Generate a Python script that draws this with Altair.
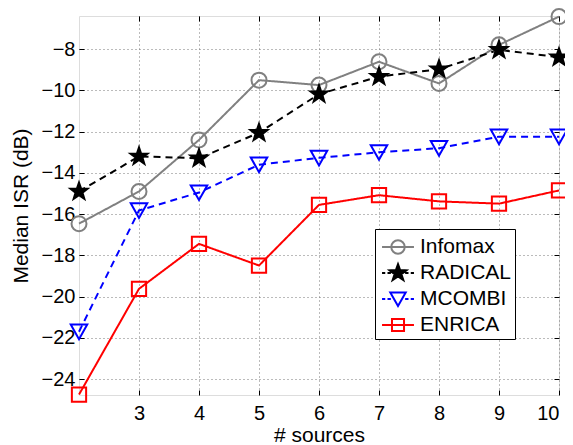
import altair as alt
import pandas as pd

# ---- data ----
sources = [2, 3, 4, 5, 6, 7, 8, 9, 10]
infomax = [-16.46, -14.9, -12.4, -9.5, -9.74, -8.61, -9.66, -7.79, -6.42]
radical = [-14.9, -13.2, -13.29, -12.05, -10.18, -9.33, -8.97, -8.03, -8.39]
mcombi = [-21.7, -15.82, -14.95, -13.6, -13.27, -13.0, -12.8, -12.24, -12.24]
enrica = [-24.75, -19.62, -17.44, -18.49, -15.55, -15.08, -15.38, -15.49, -14.85]

methods = ["Infomax", "RADICAL", "MCOMBI", "ENRICA"]
colors = ["#808080", "#000000", "#0000ff", "#ff0000"]
fills = ["transparent", "#000000", "transparent", "transparent"]
dashes = [[1, 0], [7, 5], [7, 5], [1, 0]]

x_ticks = [3, 4, 5, 6, 7, 8, 9, 10]
y_ticks = [-8, -10, -12, -14, -16, -18, -20, -22, -24]
x_domain = [2, 10]
y_domain = [-24.77, -6.39]

rows = []
for name, vals in zip(methods, [infomax, radical, mcombi, enrica]):
    for s, v in zip(sources, vals):
        rows.append({"sources": s, "isr": v, "method": name})
df = pd.DataFrame(rows)

# marker shapes (unit coordinates)
star = "M0,-1.2L0.28,-0.39L1.14,-0.37L0.46,0.15L0.71,0.97L0,0.48L-0.71,0.97L-0.46,0.15L-1.14,-0.37L-0.28,-0.39Z"
marker_shapes = [
    "circle",
    star,
    "M-1.1,-0.95L1.1,-0.95L0,1.0Z",
    "M-0.95,-0.95H0.95V0.95H-0.95Z",
]

# legend symbols: line + marker
solid = "M-1.14,0H1.14"
dashed = "M-1.14,0H-0.91M-0.75,0H-0.51M0.51,0H0.75M0.91,0H1.14"
leg_circle = "M0.48,0A0.48,0.48 0 1,1 -0.48,0A0.48,0.48 0 1,1 0.48,0Z"
leg_star = "M0,-0.63L0.15,-0.21L0.6,-0.19L0.24,0.08L0.38,0.5L0,0.25L-0.38,0.5L-0.24,0.08L-0.6,-0.19L-0.15,-0.21Z"
leg_tri = "M-0.55,-0.46L0.55,-0.46L0,0.5Z"
leg_sq = "M-0.43,-0.43H0.43V0.43H-0.43Z"
legend_shapes = [solid + leg_circle, dashed + leg_star, dashed + leg_tri, solid + leg_sq]

W, H = 480, 379
FONT = "Liberation Sans"

xs = alt.Scale(domain=x_domain, nice=False, zero=False)
ys = alt.Scale(domain=y_domain, nice=False, zero=False)
cscale = alt.Scale(domain=methods, range=colors)
fscale = alt.Scale(domain=methods, range=fills)

base = alt.Chart(df)

lines = base.mark_line(strokeWidth=2).encode(
    x=alt.X("sources:Q", scale=xs, axis=alt.Axis(
        orient="bottom", values=x_ticks, format="d", title="# sources",
        grid=True, gridDash=[1, 3], gridColor="#777777", gridWidth=1,
        ticks=False, tickSize=0, domain=False,
        labelFontSize=20, labelFont=FONT, labelColor="black", labelPadding=8,
        titleFontSize=21, titleFont=FONT, titleFontWeight="normal",
        titleColor="black", titlePadding=1)),
    y=alt.Y("isr:Q", scale=ys, axis=alt.Axis(
        orient="left", values=y_ticks, format="d", title="Median ISR (dB)",
        grid=True, gridDash=[1, 3], gridColor="#777777", gridWidth=1,
        ticks=False, tickSize=0, domain=False,
        labelFontSize=20, labelFont=FONT, labelColor="black", labelPadding=4,
        titleFontSize=21, titleFont=FONT, titleFontWeight="normal",
        titleColor="black", titlePadding=10)),
    color=alt.Color("method:N", scale=cscale, legend=None),
    strokeDash=alt.StrokeDash("method:N", scale=alt.Scale(domain=methods, range=dashes), legend=None),
    order="sources:Q",
)

points = base.mark_point(filled=False, strokeWidth=2, size=225, opacity=1).encode(
    x=alt.X("sources:Q", scale=xs, axis=alt.Axis(
        orient="top", offset=-H, values=x_ticks, labels=False, grid=False,
        domain=False, ticks=True, tickSize=5, tickColor="black", title=None)),
    y=alt.Y("isr:Q", scale=ys, axis=alt.Axis(
        orient="right", offset=-W, values=y_ticks, labels=False, grid=False,
        domain=False, ticks=True, tickSize=5, tickColor="black", title=None)),
    color=alt.Color("method:N", scale=cscale, legend=None),
    fill=alt.Fill("method:N", scale=fscale, legend=None),
    shape=alt.Shape("method:N", scale=alt.Scale(domain=methods, range=marker_shapes), legend=None),
)

legend_layer = base.transform_filter("false").mark_point(filled=False, strokeWidth=2, opacity=1).encode(
    x=alt.X("sources:Q", scale=xs, axis=alt.Axis(
        orient="bottom", offset=-H, values=x_ticks, labels=False, grid=False,
        domain=False, ticks=True, tickSize=5, tickColor="black", title=None)),
    y=alt.Y("isr:Q", scale=ys, axis=alt.Axis(
        orient="left", offset=-W, values=y_ticks, labels=False, grid=False,
        domain=False, ticks=True, tickSize=5, tickColor="black", title=None)),
    color=alt.Color("method:N", scale=cscale, title=None),
    fill=alt.Fill("method:N", scale=fscale, title=None),
    shape=alt.Shape("method:N", scale=alt.Scale(domain=methods, range=legend_shapes), title=None,
                    legend=alt.Legend(
                        orient="none", legendX=296, legendY=213,
                        fillColor="white", strokeColor="black",
                        padding=3, rowPadding=0, symbolSize=784,
                        symbolStrokeWidth=2, symbolOffset=5, labelOffset=7,
                        labelFontSize=21, labelFont=FONT, labelColor="black",
                        labelLimit=200)),
)

chart = alt.layer(lines, points, legend_layer).resolve_scale(
    color="independent", shape="independent", fill="independent", strokeDash="independent"
).resolve_axis(x="independent", y="independent").properties(
    width=W, height=H,
    autosize=alt.AutoSizeParams(type="none"),
    padding={"left": 71, "top": 8, "right": 6, "bottom": 50},
).configure_view(stroke="black", strokeWidth=1.5).configure(background="white")

chart.save("out.html", embed_options={"renderer": "svg", "actions": False})
